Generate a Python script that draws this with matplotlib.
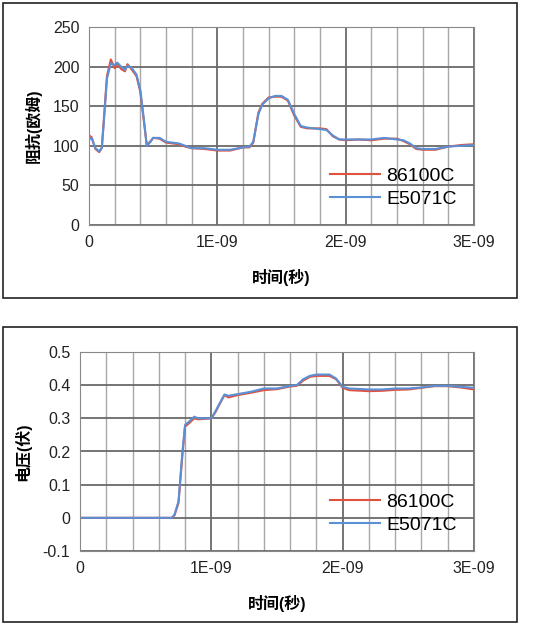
import numpy as np
import matplotlib
matplotlib.use("Agg")
import matplotlib.pyplot as plt
from matplotlib.patches import Rectangle

plt.rcParams['font.family'] = ['Liberation Sans', 'Noto Sans CJK SC', 'DejaVu Sans']

# impedance (top), time in ns
t_z = [0, 0.02, 0.05, 0.08, 0.1, 0.12, 0.14, 0.17, 0.2, 0.22, 0.25, 0.28, 0.3, 0.33, 0.37, 0.4,
       0.43, 0.45, 0.48, 0.5, 0.55, 0.6, 0.7, 0.75, 0.8, 0.9, 1.0, 1.1, 1.2, 1.25, 1.28, 1.32,
       1.35, 1.4, 1.45, 1.5, 1.55, 1.6, 1.65, 1.7, 1.8, 1.85, 1.9, 1.95, 2.0, 2.1, 2.2, 2.3,
       2.4, 2.45, 2.5, 2.55, 2.6, 2.7, 2.8, 2.9, 3.0]
z_blue = [108, 110, 97, 93, 97, 140, 185, 204, 202, 205, 200, 196, 201, 199, 190, 170,
          130, 100, 105, 110, 110, 105, 103, 100, 97, 97, 95, 95, 98, 99, 105, 140,
          152, 160, 163, 163, 158, 140, 125, 123, 121, 120, 113, 108, 108, 108, 108, 110,
          108, 107, 103, 97, 96, 96, 99, 100, 101]
z_red = [113, 111, 96, 92, 98, 143, 188, 209, 198, 204, 197, 194, 203, 197, 188, 168,
         128, 101, 106, 110, 109, 104, 102, 99, 97, 96, 94, 94, 98, 98, 104, 142,
         153, 161, 162, 162, 157, 138, 124, 122, 122, 121, 112, 108, 107, 108, 107, 109,
         109, 106, 102, 96, 95, 95, 99, 101, 102]

# voltage (bottom)
t_v = [0, 0.7, 0.72, 0.75, 0.78, 0.8, 0.83, 0.87, 0.9, 1.0, 1.03, 1.07, 1.1, 1.13, 1.2, 1.3,
       1.4, 1.5, 1.6, 1.65, 1.7, 1.75, 1.8, 1.9, 1.95, 2.0, 2.05, 2.2, 2.3, 2.4, 2.5, 2.6,
       2.7, 2.8, 2.9, 3.0]
v_blue = [0, 0, 0.01, 0.05, 0.2, 0.28, 0.29, 0.305, 0.3, 0.3, 0.32, 0.35, 0.372, 0.368, 0.373, 0.38,
          0.39, 0.39, 0.398, 0.4, 0.418, 0.428, 0.432, 0.432, 0.42, 0.395, 0.39, 0.387, 0.387, 0.39, 0.39, 0.393,
          0.398, 0.398, 0.395, 0.392]
v_red = [0, 0, 0.008, 0.045, 0.19, 0.275, 0.285, 0.3, 0.297, 0.3, 0.318, 0.348, 0.37, 0.363, 0.37, 0.377,
         0.385, 0.388, 0.396, 0.398, 0.414, 0.425, 0.428, 0.428, 0.418, 0.392, 0.385, 0.382, 0.383, 0.386, 0.387, 0.392,
         0.397, 0.397, 0.393, 0.387]

xticks = [0, 1e-9, 2e-9, 3e-9]
xticklabels = ['0', '1E-09', '2E-09', '3E-09']

fig = plt.figure(figsize=(5.44, 6.28), dpi=100)
for y0, h in [(3, 295), (327, 295)]:
    fig.patches.append(Rectangle((3 / 544, 1 - (y0 + h) / 628), 514 / 544, h / 628,
                                 transform=fig.transFigure, fill=False, lw=1.2, ec='#222222'))

ax1 = fig.add_axes([89 / 544, 1 - 225 / 628, 385 / 544, 198 / 628])
ax2 = fig.add_axes([80 / 544, 1 - 551 / 628, 394 / 544, 199 / 628])

panels = [
    (ax1, t_z, z_red, z_blue, (0, 250), np.arange(0, 251, 50), '阻抗(欧姆)'),
    (ax2, t_v, v_red, v_blue, (-0.1, 0.5), np.arange(-0.1, 0.51, 0.1), '电压(伏)'),
]
for ax, t, red, blue, ylim, yt, ylab in panels:
    t = np.array(t) * 1e-9
    ax.plot(t, red, color='#e0523e', lw=1.5, label='86100C')
    ax.plot(t, blue, color='#5b8fd6', lw=1.5, label='E5071C')
    ax.set_xlim(0, 3e-9)
    ax.set_ylim(*ylim)
    ax.set_yticks(yt)
    if ylim[0] < 0:
        ax.set_yticklabels(['-0.1', '0', '0.1', '0.2', '0.3', '0.4', '0.5'])
    ax.set_xticks(xticks)
    ax.set_xticklabels(xticklabels)
    ax.set_xticks(np.arange(0, 3.01e-9, 0.2e-9), minor=True)
    ax.grid(True, which='major', color='#6a6a6a', lw=1.3)
    ax.grid(True, which='minor', axis='x', color='#a8a8a8', lw=1.0)
    ax.tick_params(which='both', length=0, labelsize=11.5, colors='#222222', pad=7)
    for s in ax.spines.values():
        s.set_color('#888888')
    ax.set_xlabel('时间(秒)', fontsize=11.5, fontweight='bold', labelpad=14)
    ax.set_ylabel(ylab, fontsize=11.5, fontweight='bold', labelpad=8)
    ax.legend(loc='lower right', frameon=False, fontsize=14, handlelength=2.6,
              bbox_to_anchor=(1.0, 0.0), labelspacing=0.25, handletextpad=0.3)

fig.savefig('out.png', dpi=100)
